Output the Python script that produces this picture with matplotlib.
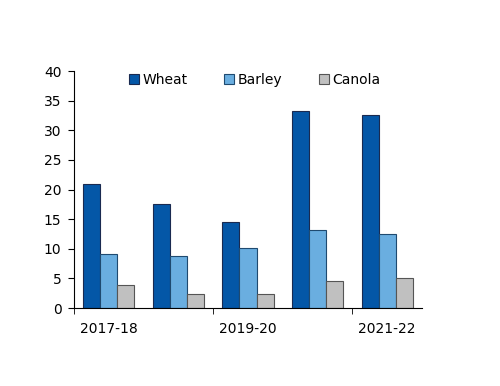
import numpy as np
from matplotlib import pyplot as plt
plt.rc('font', **{'size': 10, 'family': 'DejaVu Sans'})

years = ['2017-18', '2018-19', '2019-20', '2020-21', '2021-22']
wheat = [20.9, 17.6, 14.5, 33.3, 32.6]
barley = [9.2, 8.8, 10.1, 13.1, 12.5]
canola = [3.9, 2.4, 2.3, 4.5, 5.0]
shown_labels = ['2017-18', '', '2019-20', '', '2021-22']

fig = plt.figure(figsize=(5, 3.86), dpi=100)
ax = fig.add_axes([0.148, 0.202, 0.696, 0.614])

x = np.arange(len(years))
w = 0.245
ax.bar(x - w, wheat, w, color='#0457A7', edgecolor='#1a2a50', linewidth=0.8, label='Wheat')
ax.bar(x, barley, w, color='#6AAEE0', edgecolor='#1f4a70', linewidth=0.8, label='Barley')
ax.bar(x + w, canola, w, color='#C0C0C0', edgecolor='#555555', linewidth=0.8, label='Canola')

ax.set_xlim(-0.5, len(years) - 0.5)
ax.set_ylim(0, 40)
ax.set_yticks(np.arange(0, 41, 5))

ax.set_xticks(x)
ax.set_xticklabels(shown_labels)
ax.tick_params(axis='x', length=0, pad=10)
ax.set_xticks([-0.5, 1.5, 3.5], minor=True)
ax.tick_params(axis='x', which='minor', length=4, direction='out')
ax.tick_params(axis='y', length=4, direction='out', pad=5)

ax.spines['right'].set_color('none')
ax.spines['top'].set_color('none')

ax.legend(loc='upper center', ncol=3, frameon=False, bbox_to_anchor=(0.52, 1.045),
          handlelength=0.7, handleheight=0.7, columnspacing=2.6, handletextpad=0.3)

plt.savefig('out.png')
